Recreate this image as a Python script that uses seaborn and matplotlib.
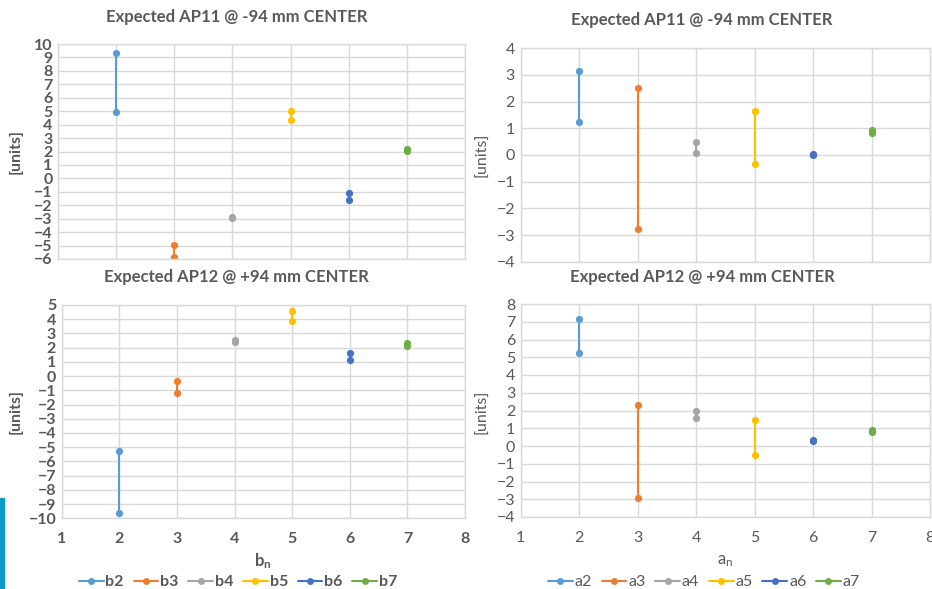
import matplotlib
matplotlib.use("Agg")
import matplotlib.pyplot as plt
import seaborn as sns
import pandas as pd
from matplotlib.lines import Line2D
from matplotlib.patches import Rectangle

# ---------------- data ----------------
harmonics = [2, 3, 4, 5, 6, 7]
b_names = ["b2", "b3", "b4", "b5", "b6", "b7"]
a_names = ["a2", "a3", "a4", "a5", "a6", "a7"]

ap11_b_upper = [9.33, -4.98, -2.88, 5.04, -1.12, 2.18]
ap11_b_lower = [4.94, -5.85, -2.95, 4.34, -1.62, 2.02]
ap11_a_upper = [3.15, 2.50, 0.50, 1.65, 0.05, 0.93]
ap11_a_lower = [1.25, -2.76, 0.09, -0.34, 0.00, 0.84]
ap12_b_upper = [-5.24, -0.32, 2.55, 4.60, 1.63, 2.30]
ap12_b_lower = [-9.65, -1.19, 2.42, 3.90, 1.11, 2.14]
ap12_a_upper = [7.17, 2.29, 1.98, 1.46, 0.32, 0.90]
ap12_a_lower = [5.22, -2.95, 1.55, -0.50, 0.28, 0.78]

series_colors = ["#5B9BD5", "#ED7D31", "#A5A5A5", "#FFC000", "#4472C4", "#70AD47"]

title_top = "Expected AP11 @ -94 mm CENTER"
title_bottom = "Expected AP12 @ +94 mm CENTER"

# ---------------- style ----------------
sns.set_theme(style="white")
plt.rcParams["font.family"] = ["Lato", "DejaVu Sans"]
TXT = "#595959"
GRID = "#D9D9D9"
TICK_FS = 11.5

W, H = 932, 589
fig = plt.figure(figsize=(W / 100, H / 100), dpi=100)


def px_axes(left, top, right, bottom):
    return fig.add_axes([left / W, 1 - bottom / H, (right - left) / W, (bottom - top) / H])


def make_df(names, upper, lower):
    rows = []
    for n, x, u, l in zip(names, harmonics, upper, lower):
        rows.append({"series": n, "n": x, "value": u})
        rows.append({"series": n, "n": x, "value": l})
    return pd.DataFrame(rows)


def draw(ax, names, upper, lower, ymin, ymax, show_x, bold):
    df = make_df(names, upper, lower)
    pal = dict(zip(names, series_colors))
    sns.lineplot(data=df, x="n", y="value", hue="series", hue_order=names,
                 palette=pal, marker="o", markersize=5.2, markeredgewidth=0,
                 linewidth=1.5, estimator=None, sort=False, legend=False, ax=ax)
    ax.set_xlim(1, 8)
    ax.set_ylim(ymin, ymax)
    ax.set_xticks(range(1, 9))
    ax.set_yticks(range(ymin, ymax + 1))
    ax.grid(True, color=GRID, linewidth=1.0)
    ax.set_axisbelow(True)
    for s in ax.spines.values():
        s.set_color(GRID)
        s.set_linewidth(1.0)
    ax.set_xlabel("")
    ax.set_ylabel("")
    w = "bold" if bold else "normal"
    ax.tick_params(axis="y", length=0, pad=4, labelsize=TICK_FS, labelcolor=TXT)
    ax.tick_params(axis="x", length=0, pad=10, labelsize=TICK_FS, labelcolor=TXT)
    for t in ax.get_yticklabels() + ax.get_xticklabels():
        t.set_fontweight(w)
    if not show_x:
        ax.set_xticklabels([])


ax1 = px_axes(58, 44, 465, 259)
draw(ax1, b_names, ap11_b_upper, ap11_b_lower, -6, 10, False, True)
ax2 = px_axes(520.5, 48.3, 930, 261.7)
draw(ax2, a_names, ap11_a_upper, ap11_a_lower, -4, 4, False, False)
ax3 = px_axes(61.7, 305, 465, 518.3)
draw(ax3, b_names, ap12_b_upper, ap12_b_lower, -10, 5, True, True)
ax4 = px_axes(520.7, 304, 930, 517)
draw(ax4, a_names, ap12_a_upper, ap12_a_lower, -4, 8, True, False)


def ftext(x, y, s, **kw):
    fig.text(x / W, 1 - y / H, s, ha="center", va="center", color=TXT, **kw)


# titles
ftext(236.7, 17, title_top, fontsize=12, fontweight="bold")
ftext(702, 20.5, title_top, fontsize=12, fontweight="bold")
ftext(236.5, 276.7, title_bottom, fontsize=12, fontweight="bold")
ftext(702, 276.7, title_bottom, fontsize=12, fontweight="bold")

# y labels
ftext(16, 152, "[units]", fontsize=11.5, rotation=90, fontweight="bold")
ftext(482.7, 155, "[units]", fontsize=11.5, rotation=90)
ftext(15.7, 411.7, "[units]", fontsize=11.5, rotation=90, fontweight="bold")
ftext(482.7, 411.7, "[units]", fontsize=11.5, rotation=90)

# x labels
ftext(263, 561, r"$\mathregular{b_n}$", fontsize=12, fontweight="bold")
ftext(725, 561, r"$\mathregular{a_n}$", fontsize=12)


def legend(names, cx, bold):
    handles = [Line2D([], [], color=c, marker="o", markersize=5, markeredgewidth=0, lw=1.5)
               for c in series_colors]
    leg = fig.legend(handles, names, loc="center", bbox_to_anchor=(cx / W, 1 - 582 / H),
                     ncol=6, frameon=False, fontsize=11.5, handlelength=1.55,
                     handletextpad=0.12, columnspacing=0.6, borderpad=0)
    for t in leg.get_texts():
        t.set_color(TXT)
        if bold:
            t.set_fontweight("bold")


legend(b_names, 238, True)
legend(a_names, 704, False)

# blue edge strip at bottom-left
fig.patches.append(Rectangle((0, 0), 4 / W, 91 / H, transform=fig.transFigure,
                             color="#0A9BC8", zorder=5))

fig.savefig("out.png", dpi=100)
